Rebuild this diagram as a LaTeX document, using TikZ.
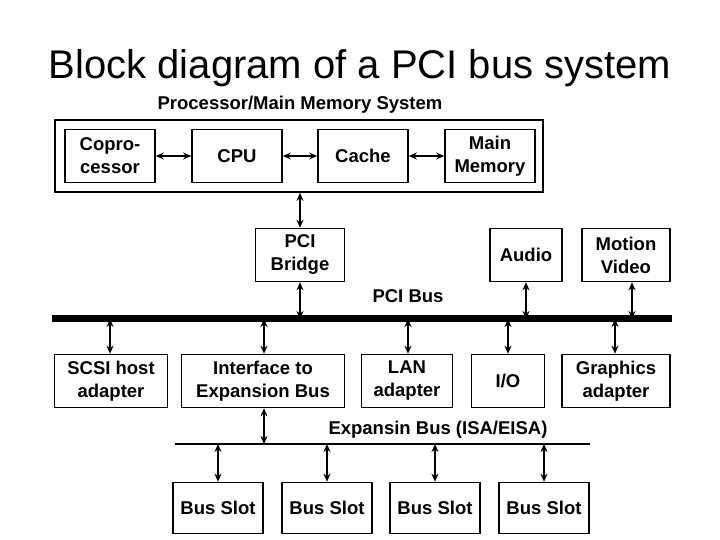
\documentclass[tikz,border=0pt]{standalone}
\usepackage{fontspec}
\setmainfont{Liberation Sans}
\usetikzlibrary{arrows.meta, positioning}

\begin{document}
\begin{tikzpicture}[
  x=1pt, y=1pt,
  >={Stealth[length=8pt,width=7pt]},
  blk/.style={draw, line width=1.6pt, rectangle, fill=white, minimum height=53pt, align=center, font=\fontsize{18.5}{23}\selectfont\bfseries, inner sep=1pt},
  lbl/.style={font=\fontsize{18.5}{23}\selectfont\bfseries, inner sep=1pt},
  link/.style={<->, line width=1.4pt}
]
\useasboundingbox (0,0) rectangle (720,540);

\node[font=\fontsize{40}{46}\selectfont] (Title) at (360,472) {Block diagram of a PCI bus system};
\node[lbl] (SysLbl) at (300,435) {Processor/Main Memory System};

% processor / memory system
\node[draw, line width=1.6pt, minimum width=488pt, minimum height=72pt] (Sys) at (299,384) {};
\node[blk, minimum width=90pt] (Copro) at (110,384) {Copro-\\cessor};
\node[blk, minimum width=90pt] (CPU) at (237,384) {CPU};
\node[blk, minimum width=90pt] (Cache) at (363,384) {Cache};
\node[blk, minimum width=90pt] (Mem) at (490,384) {Main\\Memory};

\draw[link] (Copro) -- (CPU);
\draw[link] (CPU) -- (Cache);
\draw[link] (Cache) -- (Mem);

% upper row
\node[blk, minimum width=89pt] (Bridge) at (300,285) {PCI\\Bridge};
\node[blk, minimum width=72pt] (Audio) at (526,285) {Audio};
\node[blk, minimum width=88pt] (Video) at (626,285) {Motion\\Video};

% PCI bus
\coordinate (PciL) at (52,221);
\coordinate (PciR) at (672,221);
\draw[line width=7pt] (PciL) -- (PciR);
\node[lbl] (PciLbl) at (408,244) {PCI Bus};

\draw[link] (Bridge.north) -- (Bridge.north |- Sys.south);
\draw[link] (Bridge.south) -- (Bridge.south |- PciL);
\draw[link] (Audio.south) -- (Audio.south |- PciL);
\draw[link] ([xshift=6pt]Video.south) -- ([xshift=6pt]Video.south |- PciL);

% lower row
\node[blk, minimum width=113pt] (SCSI) at (111,159) {SCSI host\\adapter};
\node[blk, minimum width=163pt] (Iface) at (263,159) {Interface to\\Expansion Bus};
\node[blk, minimum width=91pt] (LAN) at (407,159) {LAN\\adapter};
\node[blk, minimum width=73pt] (IO) at (508,159) {I/O};
\node[blk, minimum width=108pt] (Gfx) at (616,159) {Graphics\\adapter};

\foreach \n/\dx in {SCSI/-1, Iface/1, LAN/1, IO/0, Gfx/-1}
  \draw[link] ([xshift=\dx pt]\n.north) -- ([xshift=\dx pt]\n.north |- PciL);

% expansion bus
\coordinate (ExpL) at (175,96);
\coordinate (ExpR) at (590,96);
\draw[line width=1.4pt] (ExpL) -- (ExpR);
\node[lbl] (ExpLbl) at (438,110) {Expansin Bus (ISA/EISA)};
\draw[link] ([xshift=1pt]Iface.south) -- ([xshift=1pt]Iface.south |- ExpL);

% bus slots
\foreach \i/\x in {1/218, 2/327, 3/435, 4/544} {
  \node[blk, minimum width=90pt, minimum height=51pt] (Slot\i) at (\x,32) {Bus Slot};
  \draw[link] (Slot\i.north) -- (Slot\i.north |- ExpL);
}
\end{tikzpicture}
\end{document}
